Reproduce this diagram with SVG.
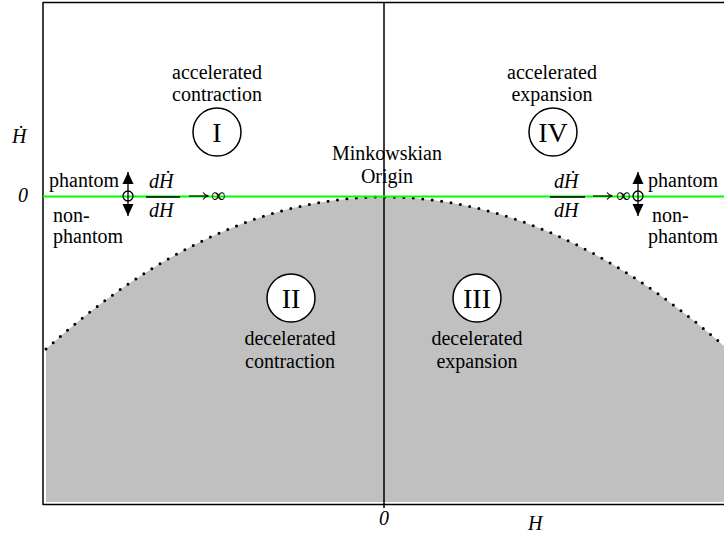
<svg xmlns="http://www.w3.org/2000/svg" width="724" height="533" viewBox="0 0 724 533">
<style>
text{font-family:'Liberation Serif',Tinos,'DejaVu Serif',serif;font-size:20px;fill:#000}
.it{font-style:italic}
.c{text-anchor:middle}
.rn{font-size:28px;text-anchor:middle}
.ring{fill:#fff;stroke:#000;stroke-width:1.5}
.ln{stroke:#000;stroke-width:1.5;fill:none}
.to{stroke:#000;stroke-width:1.1;fill:none}
</style>
<defs>
<g id="flip">
<line x1="0" y1="-24" x2="0" y2="20" stroke="#000" stroke-width="1.3"/>
<polygon points="0,-24 -5.5,-12 5.5,-12" fill="#000"/>
<polygon points="0,20 -5.5,8 5.5,8" fill="#000"/>
<circle cx="0" cy="0" r="5" fill="none" stroke="#000" stroke-width="1.3"/>
</g>
<g id="toarrow">
<line class="to" x1="0" y1="0" x2="19" y2="0"/>
<path class="to" d="M14,-3.5 Q16,-0.5 19.5,0 Q16,0.5 14,3.5"/>
</g>
</defs>
<rect width="724" height="533" fill="#fff"/>
<g id="region-shade">
<path d="M46,349 Q215,197 384,197 Q554,197 724,346 L724,502 L46,502 Z" fill="#c0c0c0"/>
<path d="M46,349 Q215,197 384,197 Q554,197 724,346" fill="none" stroke="#000" stroke-width="3" stroke-linecap="round" stroke-dasharray="0 9.5"/>
</g>
<g id="connectors">
<line class="ln" x1="43" y1="2.5" x2="724" y2="2.5"/>
<line class="ln" x1="43" y1="2" x2="43" y2="505"/>
<line class="ln" x1="43" y1="504.5" x2="724" y2="504.5"/>
<line class="ln" x1="384" y1="2" x2="384" y2="508"/>
<line x1="43" y1="196.5" x2="724" y2="196.5" stroke="#00ff00" stroke-width="2"/>
</g>
<g id="axes-labels">
<text class="it" x="12" y="143">Ḣ</text>
<text class="it" x="18" y="202">0</text>
<text class="it" x="379" y="525">0</text>
<text class="it" x="528" y="530">H</text>
</g>
<g id="node-I">
<text class="c" x="217" y="79">accelerated</text>
<text class="c" x="217" y="101">contraction</text>
<circle class="ring" cx="217" cy="132" r="24"/>
<text class="rn" x="217" y="141.5">I</text>
</g>
<g id="node-IV">
<text class="c" x="552" y="79">accelerated</text>
<text class="c" x="552" y="101">expansion</text>
<circle class="ring" cx="553" cy="132" r="24"/>
<text class="rn" x="553" y="141.5">IV</text>
</g>
<g id="node-II">
<circle class="ring" cx="291" cy="298" r="24"/>
<text class="rn" x="291" y="307.5">II</text>
<text class="c" x="290" y="345">decelerated</text>
<text class="c" x="290" y="368">contraction</text>
</g>
<g id="node-III">
<circle class="ring" cx="477" cy="298" r="24"/>
<text class="rn" x="477" y="307.5">III</text>
<text class="c" x="477" y="345">decelerated</text>
<text class="c" x="477" y="368">expansion</text>
</g>
<g id="node-origin">
<text class="c" x="387" y="160">Minkowskian</text>
<text class="c" x="387" y="183">Origin</text>
</g>
<g id="node-left">
<text x="49" y="187">phantom</text>
<text x="53" y="222">non-</text>
<text x="53" y="243">phantom</text>
<use href="#flip" x="128" y="196"/>
<text class="it" x="149" y="188">dḢ</text>
<line x1="146" y1="197" x2="180" y2="197" stroke="#000" stroke-width="1.3"/>
<text class="it" x="149" y="217">dH</text>
<use href="#toarrow" x="189" y="196"/>
<text x="211" y="202">∞</text>
</g>
<g id="node-right">
<text class="it" x="554" y="188">dḢ</text>
<line x1="550" y1="197" x2="585" y2="197" stroke="#000" stroke-width="1.3"/>
<text class="it" x="554" y="217">dH</text>
<use href="#toarrow" x="593" y="196"/>
<text x="616" y="202">∞</text>
<use href="#flip" x="638" y="196"/>
<text x="648" y="187">phantom</text>
<text x="652" y="222">non-</text>
<text x="648" y="243">phantom</text>
</g>
</svg>
